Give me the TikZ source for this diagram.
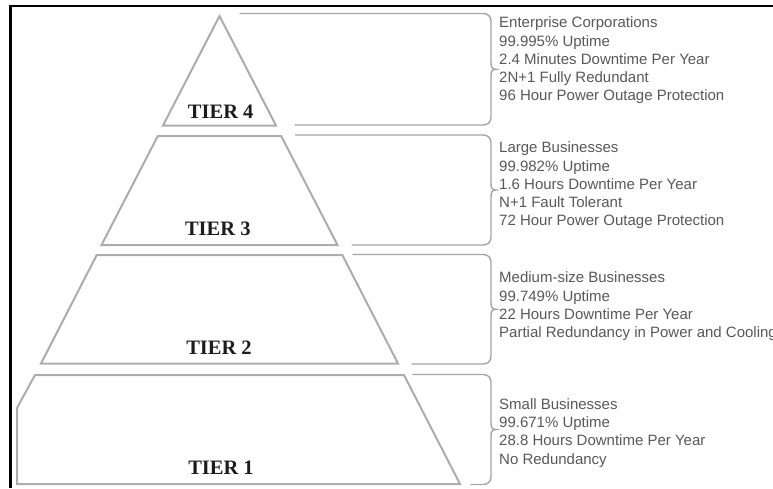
\documentclass[tikz,border=0pt]{standalone}
\usepackage{fontspec}
\setmainfont{Liberation Serif}
\newfontfamily\infofont{Liberation Sans}
\definecolor{pyrline}{RGB}{172,172,172}
\definecolor{braceline}{RGB}{165,165,165}
\definecolor{infotext}{RGB}{88,88,88}
\definecolor{tiertext}{RGB}{28,28,28}

% right-hand curly brace: left end of top line, top y, left end of bottom line, bottom y
\newcommand\infobrace[4]{%
  \pgfmathsetmacro\bmid{(#2+#4)/2}%
  \draw[braceline,line width=1.4pt,line cap=round]
    (#1,#2) -- (483,#2) .. controls (488,#2) and (491,{#2+3}) .. (491,{#2+8})
    -- (491,{\bmid-7}) .. controls (491,{\bmid-2}) and (492,\bmid) .. (496,\bmid)
    .. controls (492,\bmid) and (491,{\bmid+2}) .. (491,{\bmid+7})
    -- (491,{#4-8}) .. controls (491,{#4-3}) and (488,#4) .. (483,#4) -- (#3,#4);}

\begin{document}
\begin{tikzpicture}[x=1pt,y=-1pt,
  tierblock/.style={draw=pyrline,line width=2pt,line join=miter},
  tierlabel/.style={font=\fontsize{20.5}{24}\selectfont\bfseries,text=tiertext,inner sep=0pt},
  info/.style={font=\infofont\fontsize{15}{18.3}\selectfont,text=infotext,
    align=left,anchor=north west,inner sep=0pt}]

\useasboundingbox (0,0) rectangle (773,488);

% frame
\draw[black,line width=2.7pt] (773,6) -- (10.3,6) -- (10.3,488);

% pyramid levels
\draw[tierblock] (219.5,16) -- (276,125.5) -- (163,125.5) -- cycle;
\draw[tierblock] (157.8,136) -- (281.2,136) -- (337.5,245) -- (101.5,245) -- cycle;
\draw[tierblock] (96.7,255) -- (342.3,255) -- (398,363.5) -- (41,363.5) -- cycle;
\draw[tierblock] (35,375) -- (404,375) -- (460,484) -- (17,484) -- (17,408) -- cycle;

\node[tierlabel] (t4) at (220.7,111.7) {TIER 4};
\node[tierlabel] (t3) at (217.8,229) {TIER 3};
\node[tierlabel] (t2) at (219,348) {TIER 2};
\node[tierlabel] (t1) at (221,468) {TIER 1};

% braces
\infobrace{240}{13.5}{295}{125}
\infobrace{295.5}{135}{352}{245}
\infobrace{353}{254.5}{412}{364}
\infobrace{413}{374.5}{471}{484.5}

% descriptions
\node[info] (d4) at (499,16.7) {Enterprise Corporations\\99.995\% Uptime\\2.4 Minutes Downtime Per Year\\2N+1 Fully Redundant\\96 Hour Power Outage Protection};
\node[info] (d3) at (499,141.7) {Large Businesses\\99.982\% Uptime\\1.6 Hours Downtime Per Year\\N+1 Fault Tolerant\\72 Hour Power Outage Protection};
\node[info] (d2) at (499,271.7) {Medium-size Businesses\\99.749\% Uptime\\22 Hours Downtime Per Year\\Partial Redundancy in Power and Cooling};
\node[info] (d1) at (499,398.3) {Small Businesses\\99.671\% Uptime\\28.8 Hours Downtime Per Year\\No Redundancy};

\end{tikzpicture}
\end{document}
